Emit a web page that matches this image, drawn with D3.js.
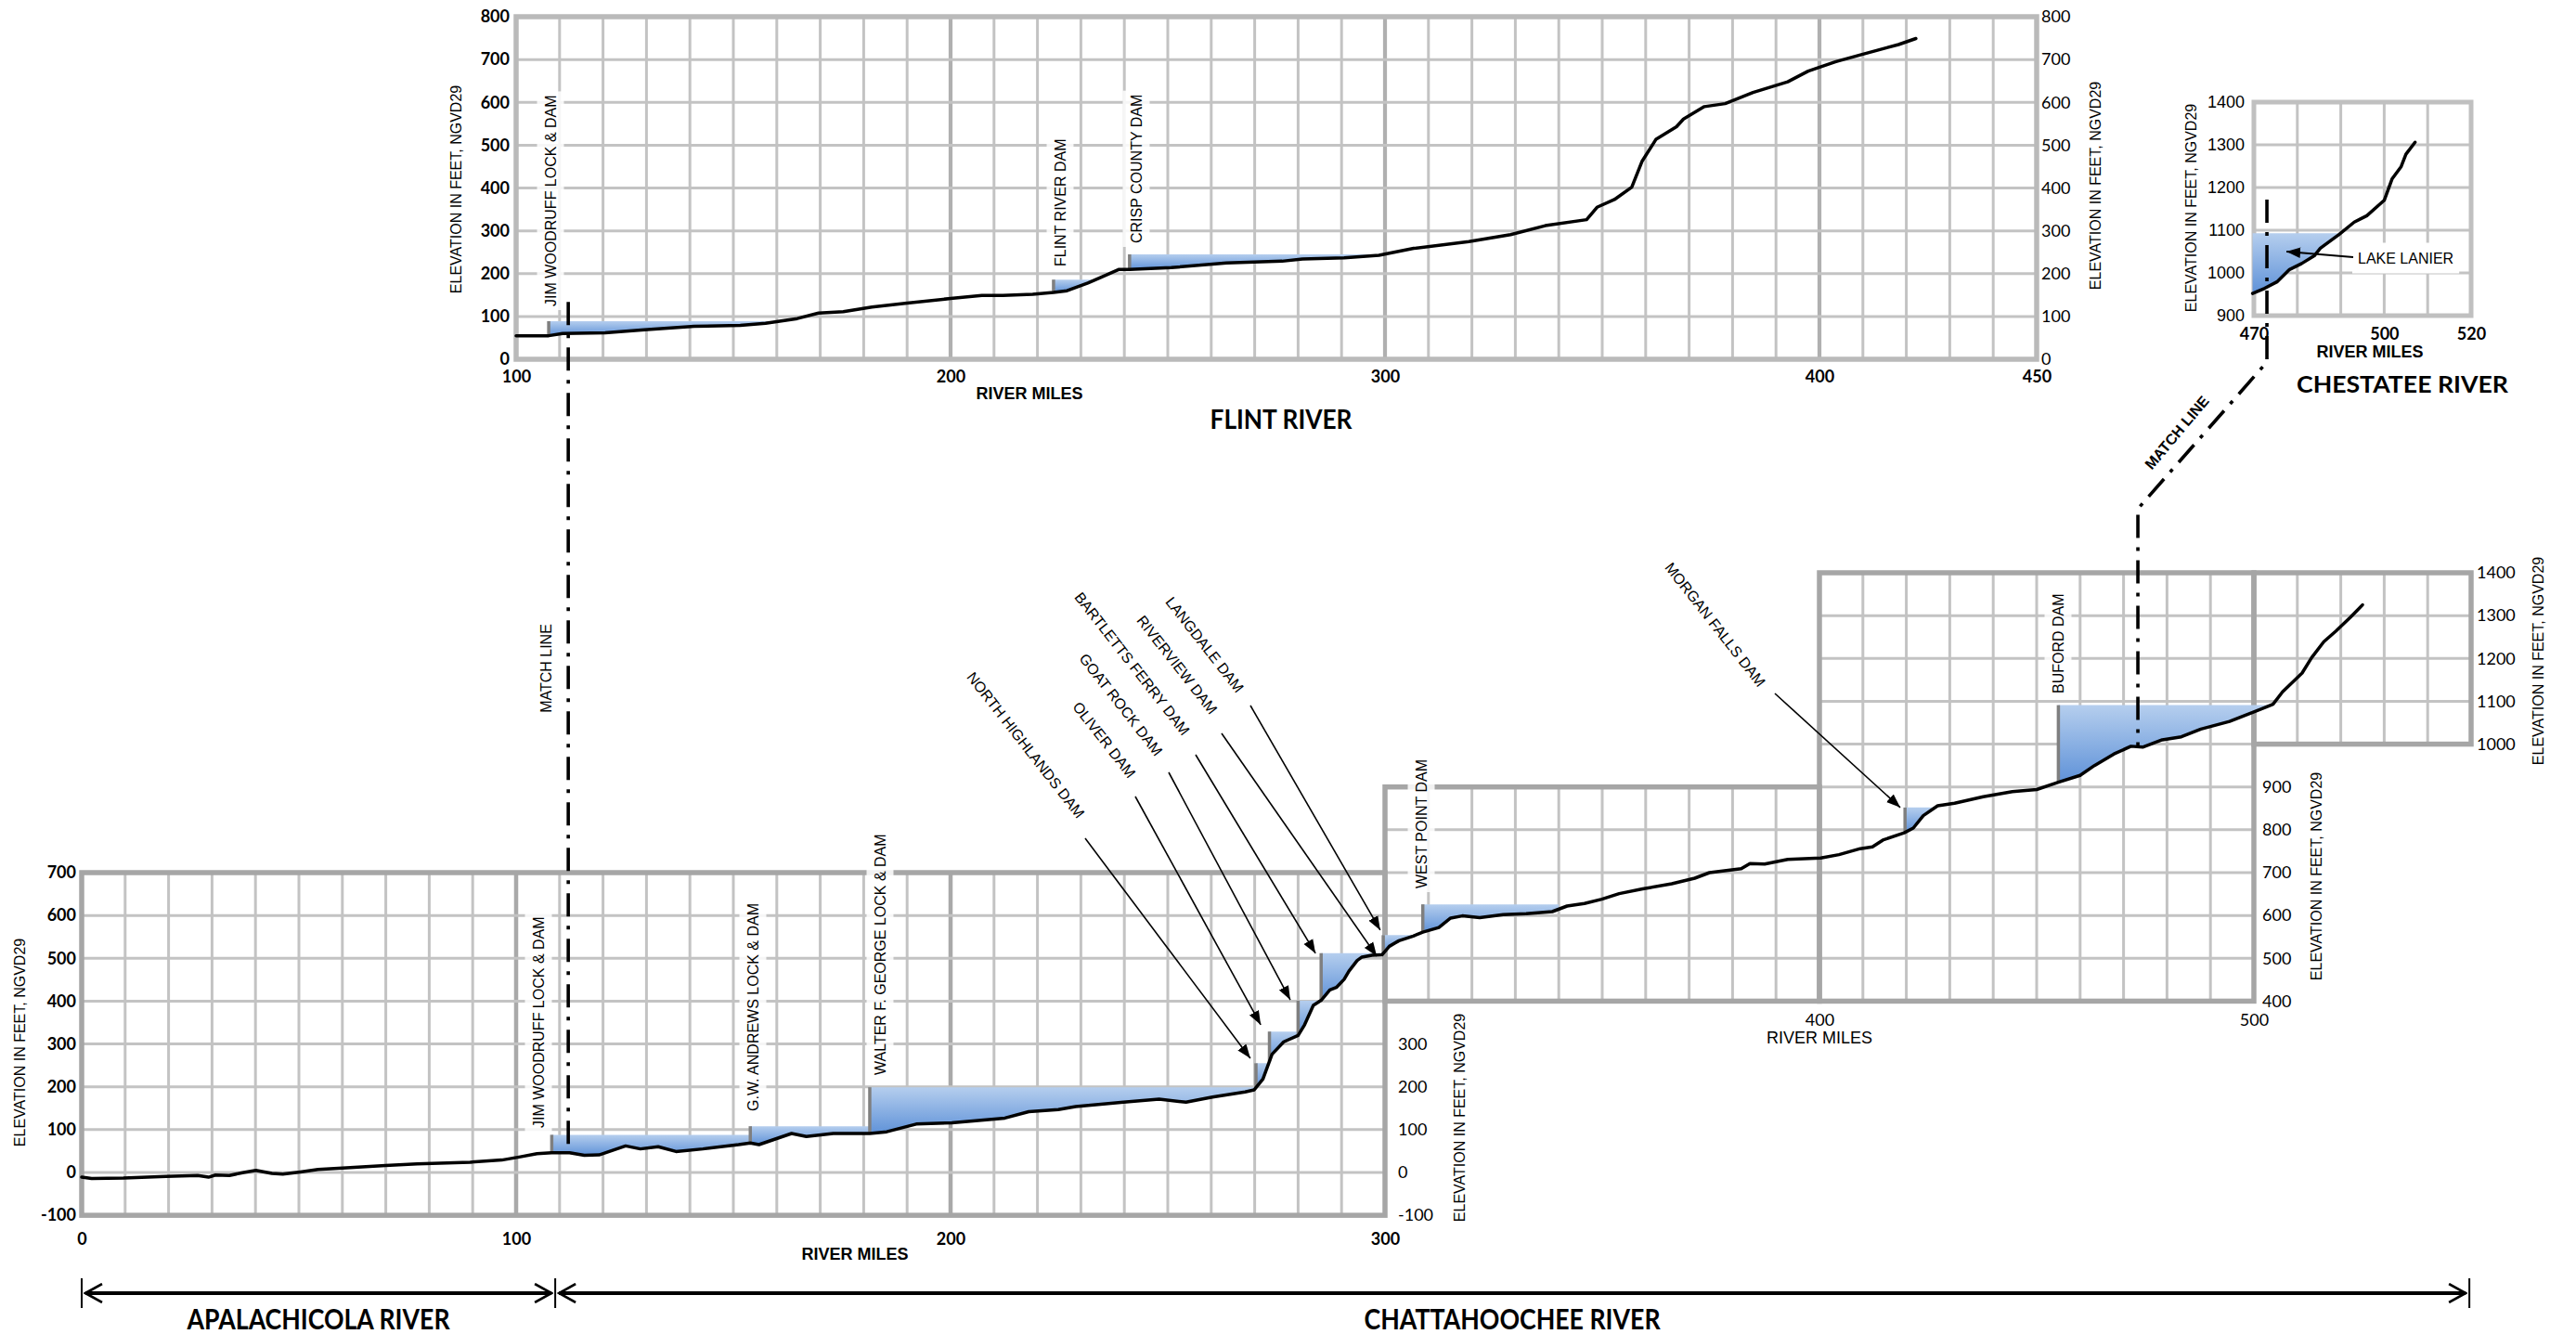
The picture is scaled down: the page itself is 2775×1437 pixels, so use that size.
<!DOCTYPE html>
<html>
<head>
<meta charset="utf-8">
<title>ACF river profiles</title>
<script src="https://cdn.jsdelivr.net/npm/d3@7"></script>
<style>
  body { margin: 0; background: #fff; }
</style>
</head>
<body>
<div id="wrapper"></div>
<script>
// river profiles: [river mile, elevation in feet NGVD29]
const lowerProfile = [
  [0,-11],[2.3,-14],[9.6,-13],[19.4,-9],[26.7,-7],[29.2,-11],[30.8,-6],[34,-7],[37.3,0],[40.1,5],
  [43.8,-2],[46.3,-4],[50.3,1],[54.4,7],[60.9,11],[69.9,16],[77.2,20],[89.4,24],[96.7,29],[100.7,36],
  [104.8,44],[108.2,46],[112.3,46],[115.7,40],[119.1,41],[125.2,62],[128.6,55],[132.7,60],[136.8,49],[143,55],
  [151.2,65],[153.9,69],[155.9,65],[163.4,91],[166.8,84],[173,91],[181.4,91],[185.3,95],[192.1,113],[200.3,116],
  [212.5,127],[218,142],[224.8,147],[228.8,154],[239.8,164],[248,171],[254.2,164],[260.3,176],[267.8,188],[269.9,193],
  [271.9,218],[274,276],[276.7,305],[280,320],[281.5,345],[283.5,390],[285.3,402],[287.3,426],[288.8,432],[290.6,451],
  [291.7,470],[293.6,495],[294.7,503],[297,507],[299.3,508],[301,528],[303.2,541],[306.5,552],[308.7,561],[312.4,572],
  [315.1,594],[317.8,599],[321.8,595],[327.2,602],[332.5,604],[338.5,609],[341.9,622],[345.9,628],[349.9,638],[353.9,651],
  [359.3,662],[366,674],[371.3,687],[374.7,700],[382,709],[384,721],[387.4,720],[392.7,731],[400.3,734],[404.5,742],
  [409.4,756],[412.2,760],[414.6,776],[419.5,793],[421.6,804],[423.9,833],[427.2,856],[431.1,862],[437.7,877],[444.4,889],
  [450,894],[455,911],[460,927],[463.3,950],[467.8,977],[471.7,995],[474.4,993],[478.9,1010],[483.3,1017],[487.8,1035],
  [494.4,1053],[500,1075],[504.4,1093],[506.6,1122],[511.1,1166],[513.3,1202],[516.1,1239],[518.9,1264],[522.2,1296],[525,1325]
]

const flintProfile = [
  [100,55],[107.5,55],[110.7,60],[120.5,62],[129.5,69],[141,77],[151.6,79],[157.4,84],[164.7,95],[169.6,108],
  [175.3,111],[181.9,122],[190,131],[200,142],[207.2,149],[212,149],[218.9,152],[223.7,156],[226.8,160],[231.6,178],
  [234.8,192],[238.8,210],[241.2,210],[250.8,214],[263.5,225],[276.3,229],[281,234],[290.6,237],[298.6,243],[306.6,259],
  [319.3,275],[328.9,291],[336.9,312],[346.4,326],[348.8,355],[352.8,373],[356.8,402],[359.2,463],[362.4,514],[367.1,543],
  [368.7,561],[373.5,590],[378.3,597],[384.7,623],[392.7,648],[397.4,673],[403.8,695],[410.2,713],[418.2,735],[422.2,749]
]

const chestateeProfile = [
  [469.7,952],[472.5,964],[475.3,979],[478.2,1008],[481,1022],[483.9,1040],[485.3,1058],[489.6,1090],
  [493.1,1119],[496,1134],[500,1170],[501.8,1220],[503.9,1249],[505,1278],[507.1,1306]
]

// dams: [name, river mile, pool elevation, river mile where the pool ends]
const lowerDams = [
  ["JIM WOODRUFF LOCK & DAM", 108.2, 88, 153.9],
  ["G.W. ANDREWS LOCK & DAM", 153.9, 108, 181.4],
  ["WALTER F. GEORGE LOCK & DAM", 181.4, 199, 270.3],
  ["NORTH HIGHLANDS DAM", 270.3, 255, 273.4],
  ["OLIVER DAM", 273.4, 329, 280],
  ["GOAT ROCK DAM", 280, 401, 285.3],
  ["BARTLETTS FERRY DAM", 285.3, 512, 298.8],
  ["RIVERVIEW DAM", 298.8, 512, 299.6],
  ["LANGDALE DAM", 299.6, 554, 307],
  ["WEST POINT DAM", 308.7, 626, 340],
  ["MORGAN FALLS DAM", 419.7, 852, 426.8],
  ["BUFORD DAM", 455, 1091, 504.5]
]

const flintDams = [
  ["JIM WOODRUFF LOCK & DAM", 107.5, 89, 160.7],
  ["FLINT RIVER DAM", 223.7, 186, 233.5],
  ["CRISP COUNTY DAM", 241.2, 245, 298]
]

const chestateeLakes = [
  ["LAKE LANIER", 469.7, 1093, 489.9]
]

// tick labels
const flintXTicks = [100, 200, 300, 400, 450]
const flintYTicks = [0, 100, 200, 300, 400, 500, 600, 700, 800]
const lowerXTicks = [0, 100, 200, 300]
const upperXTicks = [400, 500]
const lowerLeftYTicks = [-100, 0, 100, 200, 300, 400, 500, 600, 700]
const lowerRightYTicks = [-100, 0, 100, 200, 300]
const middleYTicks = [400, 500, 600, 700, 800, 900]
const upperYTicks = [1000, 1100, 1200, 1300, 1400]
const chestateeXTicks = [470, 500, 520]
const chestateeYTicks = [900, 1000, 1100, 1200, 1300, 1400]

// river reaches along the bottom
const riverNames = ["APALACHICOLA RIVER", "CHATTAHOOCHEE RIVER"]
const riverBreaks = [0, 109, 549.6]

function drawProfiles() {
  const FONT = '"Liberation Sans", Arial, sans-serif'
  const TICK_FONT = 'Lato, "Liberation Sans", sans-serif'

  // 1. Canvas

  const dims = { width: 2775, height: 1437 }

  const wrapper = d3.select("#wrapper")
    .append("svg")
      .attr("width", dims.width)
      .attr("height", dims.height)
      .attr("font-family", FONT)
      .style("display", "block")

  wrapper.append("rect")
      .attr("width", dims.width)
      .attr("height", dims.height)
      .attr("fill", "white")

  const defs = wrapper.append("defs")

  const grad = defs.append("linearGradient")
      .attr("id", "pool")
      .attr("x1", 0).attr("y1", 0)
      .attr("x2", 0).attr("y2", 1)
  grad.append("stop").attr("offset", 0).attr("stop-color", "#b5ceee")
  grad.append("stop").attr("offset", 1).attr("stop-color", "#5f92d8")

  defs.append("marker")
      .attr("id", "arrow")
      .attr("viewBox", "0 -5 10 10")
      .attr("refX", 10).attr("refY", 0)
      .attr("markerWidth", 15).attr("markerHeight", 15)
      .attr("markerUnits", "userSpaceOnUse")
      .attr("orient", "auto")
    .append("path")
      .attr("d", "M0,-3.8L10,0L0,3.8Z")
      .attr("fill", "black")

  defs.append("marker")
      .attr("id", "chevron")
      .attr("viewBox", "0 -11 21 22")
      .attr("refX", 19).attr("refY", 0)
      .attr("markerWidth", 21).attr("markerHeight", 22)
      .attr("markerUnits", "userSpaceOnUse")
      .attr("orient", "auto-start-reverse")
    .append("path")
      .attr("d", "M1,-10L19,0L1,10")
      .attr("fill", "none")
      .attr("stroke", "black")
      .attr("stroke-width", 2.6)

  // 2. Scales

  const xScale = d3.scaleLinear().domain([0, 550]).range([88, 2662])
  const yScale = d3.scaleLinear().domain([0, 1400]).range([1263, 617])
  const yFlint = d3.scaleLinear().domain([0, 800]).range([387, 18])
  const xChest = d3.scaleLinear().domain([470, 520]).range([2428, 2662])
  const yChest = d3.scaleLinear().domain([900, 1400]).range([340, 110])

  // 3. Grids

  const drawGrid = (g, xs, ys, [m0, m1, e0, e1], st) => {
    g.append("g").selectAll("line")
      .data(d3.range(m0 + 10, m1, 10))
      .join("line")
        .attr("x1", d => xs(d)).attr("x2", d => xs(d))
        .attr("y1", ys(e0)).attr("y2", ys(e1))
        .attr("stroke", d => d % 100 === 0 ? st.major : st.minor)
        .attr("stroke-width", d => d % 100 === 0 ? st.majorWidth : st.minorWidth)
    g.append("g").selectAll("line")
      .data(d3.range(e0 + 100, e1, 100))
      .join("line")
        .attr("x1", xs(m0)).attr("x2", xs(m1))
        .attr("y1", d => ys(d)).attr("y2", d => ys(d))
        .attr("stroke", st.minor)
        .attr("stroke-width", st.minorWidth)
  }
  const drawBorder = (g, xs, ys, [m0, m1, e0, e1], st) => {
    g.append("rect")
        .attr("x", xs(m0)).attr("y", ys(e1))
        .attr("width", xs(m1) - xs(m0))
        .attr("height", ys(e0) - ys(e1))
        .attr("fill", "none")
        .attr("stroke", st.border)
        .attr("stroke-width", st.borderWidth)
  }

  const lowerStyle = { minor: "#c3c3c3", minorWidth: 3, major: "#a9a9a9", majorWidth: 4.5, border: "#a6a6a6", borderWidth: 5.5 }
  const flintStyle = { minor: "#c3c3c3", minorWidth: 3, major: "#b0b0b0", majorWidth: 4.2, border: "#bababa", borderWidth: 5.5 }
  const chestStyle = { minor: "#c3c3c3", minorWidth: 3, major: "#c3c3c3", majorWidth: 3, border: "#c0c0c0", borderWidth: 5 }

  const lowerRegions = [[0, 300, -100, 700], [300, 400, 400, 900], [400, 500, 400, 1400], [500, 550, 1000, 1400]]
  const gridG = wrapper.append("g")
  lowerRegions.forEach(r => drawGrid(gridG, xScale, yScale, r, lowerStyle))
  lowerRegions.forEach(r => drawBorder(gridG, xScale, yScale, r, lowerStyle))
  drawGrid(gridG, xScale, yFlint, [100, 450, 0, 800], flintStyle)
  drawBorder(gridG, xScale, yFlint, [100, 450, 0, 800], flintStyle)
  drawGrid(gridG, xChest, yChest, [470, 520, 900, 1400], chestStyle)
  drawBorder(gridG, xChest, yChest, [470, 520, 900, 1400], chestStyle)

  // 4. Pools, dams and river lines

  const drawRiver = (profile, dams, xs, ys, markers) => {
    const river = d3.scaleLinear()
      .domain(profile.map(d => d[0]))
      .range(profile.map(d => d[1]))
      .clamp(true)
    const g = wrapper.append("g")

    dams.forEach(([name, mile, pool, end]) => {
      const miles = [mile, ...profile.map(d => d[0]).filter(m => m > mile && m < end), end]
      const area = d3.area()
        .x(m => xs(m))
        .y0(m => ys(Math.min(river(m), pool)))
        .y1(ys(pool))
      g.append("path")
          .attr("d", area(miles))
          .attr("fill", "url(#pool)")
    })

    if (markers) {
      g.selectAll(".dam")
        .data(dams)
        .join("line")
          .attr("class", "dam")
          .attr("x1", d => xs(d[1])).attr("x2", d => xs(d[1]))
          .attr("y1", d => ys(river(d[1])))
          .attr("y2", d => ys(d[2]))
          .attr("stroke", "#7f7f7f")
          .attr("stroke-width", 3.5)
    }

    const line = d3.line()
      .x(d => xs(d[0]))
      .y(d => ys(d[1]))
    g.append("path")
        .attr("d", line(profile))
        .attr("fill", "none")
        .attr("stroke", "black")
        .attr("stroke-width", 3.5)
        .attr("stroke-linejoin", "round")
        .attr("stroke-linecap", "round")
  }

  drawRiver(lowerProfile, lowerDams, xScale, yScale, true)
  drawRiver(flintProfile, flintDams, xScale, yFlint, true)
  drawRiver(chestateeProfile, chestateeLakes, xChest, yChest, false)

  // 5. Dam labels

  const verticalLabel = (text, x, y) => {
    const g = wrapper.append("g")
        .attr("transform", `translate(${x},${y}) rotate(-90)`)
    const box = g.append("rect")
        .attr("fill", "white")
        .attr("opacity", 0.85)
    const t = g.append("text")
        .attr("font-size", 16)
        .attr("dominant-baseline", "central")
        .text(text)
    const bb = t.node().getBBox()
    box.attr("x", bb.x - 4).attr("y", bb.y - 6)
       .attr("width", bb.width + 8).attr("height", bb.height + 12)
  }

  const flintLabelPos = [[593, 330], [1142, 287], [1224, 262]]
  flintDams.forEach((d, i) => verticalLabel(d[0], ...flintLabelPos[i]))

  const lowerLabels = [
    { name: "JIM WOODRUFF LOCK & DAM", x: 580, y: 1215 },
    { name: "G.W. ANDREWS LOCK & DAM", x: 811, y: 1197 },
    { name: "WALTER F. GEORGE LOCK & DAM", x: 948, y: 1158 },
    { name: "WEST POINT DAM", x: 1531, y: 957 },
    { name: "BUFORD DAM", x: 2217, y: 747 },
    { name: "NORTH HIGHLANDS DAM", x: 1045, y: 726, angle: 52, tail: [1169, 903], tip: [269.0, 266.6] },
    { name: "OLIVER DAM", x: 1159, y: 758, angle: 52, tail: [1223, 858], tip: [271.4, 344.7] },
    { name: "GOAT ROCK DAM", x: 1166, y: 706, angle: 52, tail: [1259, 832], tip: [278.2, 403] },
    { name: "BARTLETTS FERRY DAM", x: 1161, y: 640, angle: 52, tail: [1288, 813], tip: [284.0, 511.6] },
    { name: "RIVERVIEW DAM", x: 1228, y: 665, angle: 52, tail: [1316, 790], tip: [298.1, 505] },
    { name: "LANGDALE DAM", x: 1259, y: 645, angle: 52, tail: [1347, 760], tip: [298.9, 565.8] },
    { name: "MORGAN FALLS DAM", x: 1797, y: 608, angle: 52, tail: [1912, 747], tip: [418.6, 852] }
  ]

  lowerLabels.forEach(l => {
    const dam = lowerDams.find(d => d[0] === l.name)
    if (!l.angle) {
      verticalLabel(dam[0], l.x, l.y)
      return
    }
    wrapper.append("text")
        .attr("transform", `translate(${l.x},${l.y}) rotate(${l.angle})`)
        .attr("font-size", 16)
        .attr("dominant-baseline", "central")
        .text(dam[0])
    wrapper.append("line")
        .attr("x1", l.tail[0]).attr("y1", l.tail[1])
        .attr("x2", xScale(l.tip[0])).attr("y2", yScale(l.tip[1]))
        .attr("stroke", "black")
        .attr("stroke-width", 1.6)
        .attr("marker-end", "url(#arrow)")
  })

  // Lake Lanier callout
  const lanier = wrapper.append("g")
  const lanierText = lanier.append("text")
      .attr("x", 2540).attr("y", 278)
      .attr("font-size", 16)
      .attr("dominant-baseline", "central")
      .text(chestateeLakes[0][0])
  const lb = lanierText.node().getBBox()
  lanier.insert("rect", "text")
      .attr("x", lb.x - 6).attr("y", lb.y - 8)
      .attr("width", lb.width + 12).attr("height", lb.height + 16)
      .attr("fill", "white")
  lanier.append("line")
      .attr("x1", 2535).attr("y1", 277)
      .attr("x2", xChest(477.5)).attr("y2", yChest(1050))
      .attr("stroke", "black")
      .attr("stroke-width", 1.8)
      .attr("marker-end", "url(#arrow)")

  // 6. Match lines

  const dashLine = d3.line()
  const matchStyle = p => p
      .attr("fill", "none")
      .attr("stroke", "black")
      .attr("stroke-width", 3.6)
      .attr("stroke-dasharray", "25,10,4,10")

  wrapper.append("path")
      .attr("d", dashLine([[xScale(112), yFlint(134)], [xScale(112), yScale(45)]]))
      .call(matchStyle)

  wrapper.append("path")
      .attr("d", dashLine([
        [xChest(473), yChest(1172)],
        [xChest(473), 390],
        [xScale(473.3), 548],
        [xScale(473.3), yScale(995)]
      ]))
      .call(matchStyle)
      .attr("stroke-linejoin", "round")

  wrapper.append("text")
      .attr("transform", `translate(588,720) rotate(-90)`)
      .attr("text-anchor", "middle")
      .attr("dominant-baseline", "central")
      .attr("font-size", 16)
      .text("MATCH LINE")

  wrapper.append("text")
      .attr("transform", `translate(2345,466) rotate(-50)`)
      .attr("text-anchor", "middle")
      .attr("dominant-baseline", "central")
      .attr("font-size", 16)
      .attr("font-weight", "bold")
      .text("MATCH LINE")

  // 7. Axes

  const tickAxis = (axis, transform, bold) => {
    wrapper.append("g")
        .attr("transform", transform)
        .call(axis.tickSize(0).tickFormat(String))
        .call(g => g.select(".domain").remove())
        .attr("font-family", TICK_FONT)
        .attr("font-size", 18)
        .attr("font-weight", bold ? "bold" : "normal")
  }

  tickAxis(d3.axisLeft(yFlint).tickValues(flintYTicks).tickPadding(7), `translate(${xScale(100)},0)`, true)
  tickAxis(d3.axisRight(yFlint).tickValues(flintYTicks).tickPadding(5), `translate(${xScale(450)},0)`, false)
  tickAxis(d3.axisBottom(xScale).tickValues(flintXTicks).tickPadding(12), `translate(0,${yFlint(0)})`, true)

  tickAxis(d3.axisLeft(yScale).tickValues(lowerLeftYTicks).tickPadding(6), `translate(${xScale(0)},0)`, true)
  tickAxis(d3.axisBottom(xScale).tickValues(lowerXTicks).tickPadding(19), `translate(0,${yScale(-100)})`, true)
  tickAxis(d3.axisRight(yScale).tickValues(lowerRightYTicks).tickPadding(14), `translate(${xScale(300)},0)`, false)
  tickAxis(d3.axisRight(yScale).tickValues(middleYTicks).tickPadding(9), `translate(${xScale(500)},0)`, false)
  tickAxis(d3.axisRight(yScale).tickValues(upperYTicks).tickPadding(6), `translate(${xScale(550)},0)`, false)
  tickAxis(d3.axisBottom(xScale).tickValues(upperXTicks).tickPadding(14), `translate(0,${yScale(400)})`, false)

  wrapper.append("g")
      .attr("transform", `translate(${xChest(470)},0)`)
      .call(d3.axisLeft(yChest).tickValues(chestateeYTicks).tickSize(0).tickPadding(10).tickFormat(String))
      .call(g => g.select(".domain").remove())
      .attr("font-family", FONT)
      .attr("font-size", 18)
  tickAxis(d3.axisBottom(xChest).tickValues(chestateeXTicks).tickPadding(13), `translate(0,${yChest(900)})`, true)

  // axis titles
  const elevTitles = [[491, 204], [2257, 200], [2360, 224], [21, 1123], [1572, 1204], [2495, 944], [2734, 712]]
  wrapper.selectAll(".elev-title")
    .data(elevTitles)
    .join("text")
      .attr("class", "elev-title")
      .attr("transform", d => `translate(${d[0]},${d[1]}) rotate(-90)`)
      .attr("text-anchor", "middle")
      .attr("dominant-baseline", "central")
      .attr("font-size", 16)
      .text("ELEVATION IN FEET, NGVD29")

  const mileTitles = [[1109, 424, "bold"], [921, 1351, "bold"], [1960, 1118, "normal"], [2553, 379, "bold"]]
  wrapper.selectAll(".mile-title")
    .data(mileTitles)
    .join("text")
      .attr("class", "mile-title")
      .attr("x", d => d[0]).attr("y", d => d[1])
      .attr("text-anchor", "middle")
      .attr("dominant-baseline", "central")
      .attr("font-size", 18)
      .attr("font-weight", d => d[2])
      .text("RIVER MILES")

  // 8. Titles

  const title = (text, x, y, size, len) => wrapper.append("text")
      .attr("x", x).attr("y", y)
      .attr("text-anchor", "middle")
      .attr("font-family", 'Lato, "Liberation Sans", sans-serif')
      .attr("font-weight", "bold")
      .attr("font-size", size)
      .attr("textLength", len)
      .attr("lengthAdjust", "spacingAndGlyphs")
      .text(text)

  title("FLINT RIVER", 1380, 462, 28, 153)
  title("CHESTATEE RIVER", 2588, 423, 25, 228)

  // river reaches along the bottom
  const reachY = 1393
  wrapper.selectAll(".reach-tick")
    .data(riverBreaks)
    .join("line")
      .attr("class", "reach-tick")
      .attr("x1", d => xScale(d)).attr("x2", d => xScale(d))
      .attr("y1", reachY - 16).attr("y2", reachY + 16)
      .attr("stroke", "black")
      .attr("stroke-width", 2)

  riverNames.forEach((name, i) => {
    const a = xScale(riverBreaks[i]) + 4
    const b = xScale(riverBreaks[i + 1]) - 4
    wrapper.append("line")
        .attr("x1", a).attr("x2", b)
        .attr("y1", reachY).attr("y2", reachY)
        .attr("stroke", "black")
        .attr("stroke-width", 4)
        .attr("marker-start", "url(#chevron)")
        .attr("marker-end", "url(#chevron)")
    title(name, (a + b) / 2, 1432, 30, i === 0 ? 283 : 319)
  })
}
drawProfiles()
</script>
</body>
</html>
